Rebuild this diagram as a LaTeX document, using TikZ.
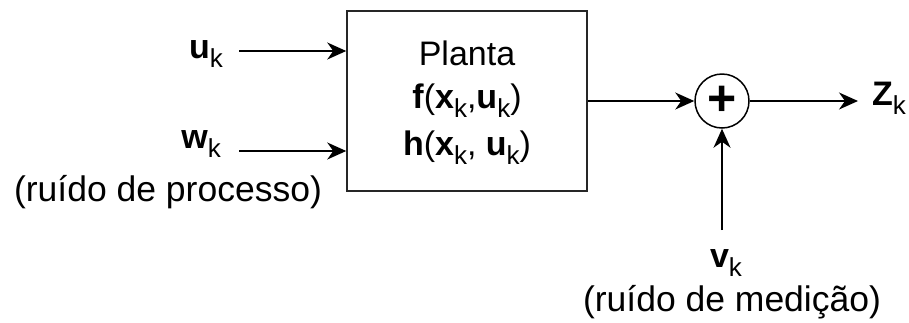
\documentclass[tikz,border=0pt]{standalone}
\usepackage{fontspec}
\setmainfont{Liberation Sans}
\usetikzlibrary{arrows.meta}

% lowered, smaller subscript "k"
\newcommand\subk{\raisebox{-9pt}{\fontsize{26}{26}\selectfont k}}

\tikzset{
  lbl/.style={inner sep=0pt, font=\fontsize{34}{38}\selectfont},
  note/.style={inner sep=0pt, font=\fontsize{35.5}{40}\selectfont},
  blk/.style={draw=black!85, line width=1.5pt, minimum width=240pt, minimum height=180pt, inner sep=0pt},
  sumnode/.style={draw=black, line width=1.5pt, circle, minimum size=54pt, inner sep=0pt},
  sig/.style={line width=1.5pt, -{Stealth[length=19pt,width=17pt,inset=6pt]}}
}

\begin{document}
\begin{tikzpicture}[x=1pt,y=-1pt]
  \useasboundingbox (0,0) rectangle (909,322);

  % plant block
  \node[blk] (plant) at (467,101) {};
  \node[lbl, anchor=base] (t1) at (467,65) {Planta};
  \node[lbl, anchor=base] (t2) at (467,108) {\textbf{f}(\textbf{x}\subk,\textbf{u}\subk)};
  \node[lbl, anchor=base] (t3) at (467,155) {\textbf{h}(\textbf{x}\subk, \textbf{u}\subk)};

  % inputs
  \node[lbl, anchor=base east] (u) at (223,58) {\textbf{u}\subk};
  \node[lbl, anchor=base east] (w) at (221,148) {\textbf{w}\subk};
  \node[note, anchor=base] (wn) at (168,201) {(ruído de processo)};
  \coordinate (us) at (239,51);
  \coordinate (ws) at (239,151);
  \draw[sig] (us) -- (us -| plant.west);
  \draw[sig] (ws) -- (ws -| plant.west);

  % summing junction
  \node[sumnode] (sum) at (722,101) {};
  \node[inner sep=0pt, font=\fontsize{50}{50}\selectfont\bfseries] (plus) at (722,101) {+};
  \draw[sig] (plant.east |- sum) -- (sum.west);

  % output
  \node[lbl, anchor=base west] (z) at (872,105) {\textbf{Z}\subk};
  \coordinate (ze) at (858,101);
  \draw[sig] (sum.east) -- (ze);

  % measurement noise
  \node[lbl, anchor=base] (v) at (726,267) {\textbf{v}\subk};
  \node[note, anchor=base] (vn) at (732,311) {(ruído de medição)};
  \coordinate (vs) at (722,230);
  \draw[sig] (vs) -- (sum.south);
\end{tikzpicture}
\end{document}
